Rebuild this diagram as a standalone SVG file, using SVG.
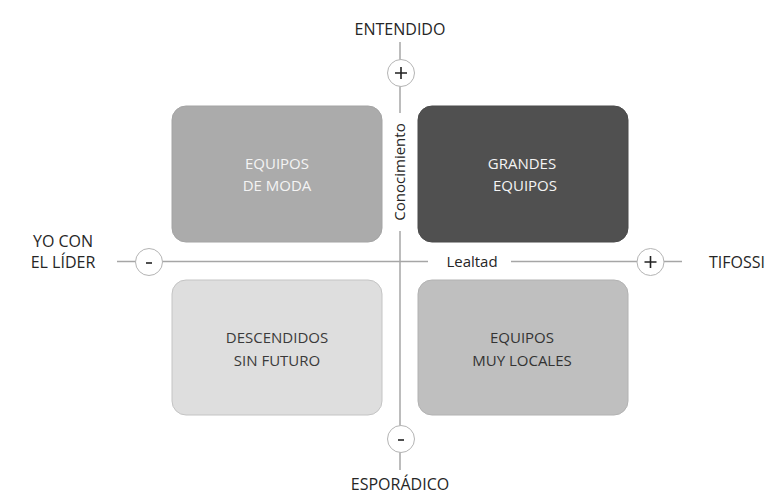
<svg xmlns="http://www.w3.org/2000/svg" width="777" height="501" viewBox="0 0 777 501">
<style>
.lbl{font-family:"Open Sans","Noto Sans",sans-serif;font-size:16px;fill:#262626;text-anchor:middle}
.box-t{font-family:"Open Sans","Noto Sans",sans-serif;font-size:15px;text-anchor:middle}
.ax{font-family:"Open Sans","Noto Sans",sans-serif;font-size:15px;fill:#262626;text-anchor:middle}
.axis{stroke:#a6a6a6;stroke-width:1.5;fill:none}
.circ{fill:#fff;stroke:#b4b4b4;stroke-width:1}
.sign{stroke:#222;stroke-width:1.6;fill:none}
</style>
<rect width="777" height="501" fill="#fff"/>
<g id="connectors">
  <line class="axis" x1="400" y1="42" x2="400" y2="113"/>
  <line class="axis" x1="400" y1="231" x2="400" y2="470"/>
  <line class="axis" x1="117" y1="261.5" x2="428" y2="261.5"/>
  <line class="axis" x1="511" y1="261.5" x2="682" y2="261.5"/>
</g>
<g id="node-equipos-moda">
  <rect x="172" y="106" width="210" height="136" rx="14" fill="#ababab" stroke="#a4a4a4" stroke-width="1"/>
  <text class="box-t" fill="#f4f4f4" x="277" y="169">EQUIPOS</text>
  <text class="box-t" fill="#f4f4f4" x="277" y="191">DE MODA</text>
</g>
<g id="node-grandes-equipos">
  <rect x="418" y="106" width="210" height="136" rx="14" fill="#505050" stroke="#4a4a4a" stroke-width="1"/>
  <text class="box-t" fill="#f4f4f4" x="522" y="169">GRANDES</text>
  <text class="box-t" fill="#f4f4f4" x="525" y="191">EQUIPOS</text>
</g>
<g id="node-descendidos">
  <rect x="172" y="280" width="210" height="135" rx="14" fill="#dedede" stroke="#c4c4c4" stroke-width="1"/>
  <text class="box-t" fill="#3a3a3a" x="277" y="343">DESCENDIDOS</text>
  <text class="box-t" fill="#3a3a3a" x="277" y="366">SIN FUTURO</text>
</g>
<g id="node-equipos-locales">
  <rect x="418" y="280" width="210" height="135" rx="14" fill="#bfbfbf" stroke="#b2b2b2" stroke-width="1"/>
  <text class="box-t" fill="#333" x="522" y="343">EQUIPOS</text>
  <text class="box-t" fill="#333" x="522" y="366">MUY LOCALES</text>
</g>
<g id="axis-labels">
  <text class="lbl" x="400" y="35">ENTENDIDO</text>
  <text class="lbl" x="400" y="490">ESPORÁDICO</text>
  <text class="lbl" x="63" y="247">YO CON</text>
  <text class="lbl" x="63" y="268">EL LÍDER</text>
  <text class="lbl" x="737" y="268">TIFOSSI</text>
  <text class="ax" x="472" y="266.5">Lealtad</text>
  <text class="ax" transform="translate(405,172) rotate(-90)">Conocimiento</text>
</g>
<g id="node-plus-top">
  <circle class="circ" cx="401" cy="73" r="13.5"/>
  <path class="sign" d="M395,73H407M401,67V79"/>
</g>
<g id="node-minus-bottom">
  <circle class="circ" cx="401" cy="439" r="13.5"/>
  <path class="sign" d="M398,440H404" stroke-width="2"/>
</g>
<g id="node-minus-left">
  <circle class="circ" cx="149" cy="262" r="13.5"/>
  <path class="sign" d="M146,263H152" stroke-width="2"/>
</g>
<g id="node-plus-right">
  <circle class="circ" cx="650.5" cy="262" r="13.5"/>
  <path class="sign" d="M644.5,262H656.5M650.5,256V268"/>
</g>
</svg>
